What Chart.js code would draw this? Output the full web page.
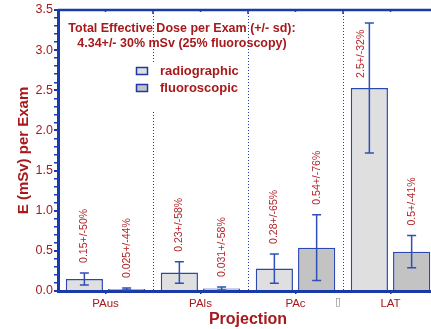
<!DOCTYPE html>
<html>
<head>
<meta charset="utf-8">
<script src="https://cdn.jsdelivr.net/npm/chart.js@4.4.1/dist/chart.umd.min.js"></script>
<style>
  html, body { margin: 0; padding: 0; overflow: hidden; background: #fff; }
  #wrap { width: 445px; height: 329px; }
</style>
</head>
<body>
<div id="wrap"><canvas id="c" width="445" height="329"></canvas></div>
<script>
const categories = ['PAus', 'PAls', 'PAc', 'LAT'];
const radiographic = [0.15, 0.23, 0.28, 2.53];
const radiographicSdPct = [50, 58, 65, 32];
const radiographicLabels = ['0.15+/-50%', '0.23+/-58%', '0.28+/-65%', '2.5+/-32%'];
const fluoroscopic = [0.025, 0.031, 0.54, 0.49];
const fluoroscopicSdPct = [44, 58, 76, 41];
const fluoroscopicLabels = ['0.025+/-44%', '0.031+/-58%', '0.54+/-76%', '0.5+/-41%'];
const titleLines = ['Total Effective Dose per Exam (+/- sd):', '4.34+/- 30% mSv (25% fluoroscopy)'];
const seriesNames = ['radiographic', 'fluoroscopic'];

const FONT = "'Liberation Sans', Arial, Helvetica, sans-serif";
const RED = '#a8191c';
const BLUE = '#1a3aa8';
const ERR = '#2f4fb5';
const FILLS = ['#dfdfdf', '#c3c3c3'];

Chart.defaults.font.family = FONT;

const sds = [radiographicSdPct, fluoroscopicSdPct];
const valueLabels = [radiographicLabels, fluoroscopicLabels];

const decor = {
  id: 'decor',
  beforeDatasetsDraw(chart) {
    const { ctx, chartArea: a, scales: { x } } = chart;
    ctx.save();
    ctx.strokeStyle = BLUE;
    ctx.lineWidth = 1;
    ctx.setLineDash([1, 2]);
    for (let i = 0; i < categories.length - 1; i++) {
      const bx = Math.round((x.getPixelForValue(i) + x.getPixelForValue(i + 1)) / 2) + 0.5;
      ctx.beginPath();
      ctx.moveTo(bx, a.top);
      ctx.lineTo(bx, a.bottom);
      ctx.stroke();
    }
    ctx.restore();
  },
  afterDatasetsDraw(chart) {
    const { ctx, chartArea: a, scales: { x, y } } = chart;
    ctx.save();

    // error bars + value labels
    chart.data.datasets.forEach((ds, d) => {
      const meta = chart.getDatasetMeta(d);
      meta.data.forEach((bar, i) => {
        const v = ds.data[i];
        const sd = v * sds[d][i] / 100;
        const yt = y.getPixelForValue(v + sd);
        const yb = y.getPixelForValue(v - sd);
        ctx.strokeStyle = ERR;
        ctx.lineWidth = 1.5;
        ctx.beginPath();
        ctx.moveTo(bar.x, yt); ctx.lineTo(bar.x, yb);
        ctx.moveTo(bar.x - 4.5, yt); ctx.lineTo(bar.x + 4.5, yt);
        ctx.moveTo(bar.x - 4.5, yb); ctx.lineTo(bar.x + 4.5, yb);
        ctx.stroke();

        const txt = valueLabels[d][i];
        ctx.font = `10.5px ${FONT}`;
        const w = ctx.measureText(txt).width;
        let lx = bar.x, ly = yt - 10;
        if (ly - w < a.top) { lx = bar.x - 8.5; ly = bar.y - 10; }
        ctx.save();
        ctx.translate(lx, ly);
        ctx.rotate(-Math.PI / 2);
        ctx.fillStyle = '#b3262a';
        ctx.textAlign = 'left';
        ctx.textBaseline = 'middle';
        ctx.fillText(txt, 0, 0);
        ctx.restore();
      });
    });

    // top frame line with ticks
    ctx.strokeStyle = BLUE;
    ctx.lineWidth = 2.5;
    ctx.beginPath();
    ctx.moveTo(a.left, a.top); ctx.lineTo(a.right, a.top);
    ctx.stroke();
    ctx.lineWidth = 1.5;
    ctx.beginPath();
    for (let i = 0; i < categories.length; i++) {
      const cx = x.getPixelForValue(i);
      ctx.moveTo(cx, a.top); ctx.lineTo(cx, a.top + 2);
      if (i < categories.length - 1) {
        const bx = (cx + x.getPixelForValue(i + 1)) / 2;
        ctx.moveTo(bx, a.top); ctx.lineTo(bx, a.top + 4);
      }
    }
    ctx.stroke();

    // legend
    ctx.fillStyle = '#fff';
    ctx.fillRect(128, 62, 112, 48);
    ctx.font = `bold 13px ${FONT}`;
    ctx.textAlign = 'left';
    ctx.textBaseline = 'middle';
    seriesNames.forEach((name, k) => {
      const ly = 71 + k * 17;
      ctx.fillStyle = FILLS[k];
      ctx.fillRect(136.5, ly - 3.5, 11, 7);
      ctx.strokeStyle = BLUE;
      ctx.lineWidth = 1.5;
      ctx.strokeRect(136.5, ly - 3.5, 11, 7);
      ctx.fillStyle = RED;
      ctx.fillText(name, 160, ly);
    });

    // annotation title
    ctx.font = `bold 12.5px ${FONT}`;
    ctx.textAlign = 'center';
    titleLines.forEach((t, k) => ctx.fillText(t, 182, 29 + k * 15));

    // stray glyph under the axis
    ctx.fillStyle = '#888';
    ctx.font = `11px 'DejaVu Sans', sans-serif`;
    ctx.fillText('\u25AF', 338, 302);

    ctx.restore();
  },
};

new Chart(document.getElementById('c'), {
  type: 'bar',
  data: {
    labels: categories,
    datasets: [
      {
        label: seriesNames[0],
        data: radiographic,
        backgroundColor: FILLS[0],
        borderColor: '#2a48b0',
        borderWidth: 1.5,
        categoryPercentage: 0.89,
        barPercentage: 0.88,
      },
      {
        label: seriesNames[1],
        data: fluoroscopic,
        backgroundColor: FILLS[1],
        borderColor: '#2a48b0',
        borderWidth: 1.5,
        categoryPercentage: 0.89,
        barPercentage: 0.88,
      },
    ],
  },
  options: {
    responsive: false,
    devicePixelRatio: 1,
    animation: false,
    layout: { padding: { top: 10, right: 7, left: 0, bottom: 0 } },
    plugins: { legend: { display: false }, tooltip: { enabled: false } },
    scales: {
      x: {
        afterFit: (s) => { s.height = 38; },
        grid: { drawOnChartArea: false, offset: false, tickLength: 3, color: BLUE, lineWidth: 1.5 },
        border: { color: BLUE, width: 3 },
        ticks: { color: RED, font: { size: 11.5 }, padding: 3 },
        title: {
          display: true, text: 'Projection', color: RED,
          font: { size: 16, weight: 'bold' }, padding: { top: 0, bottom: 0 },
        },
      },
      y: {
        min: 0,
        max: 3.5,
        afterFit: (s) => { s.width = 58; },
        grid: {
          drawOnChartArea: false, tickLength: 4, color: BLUE,
          lineWidth: (c) => (Math.round(c.tick.value * 10) % 5 === 0 ? 2 : 1.5),
        },
        border: { color: BLUE, width: 3 },
        ticks: {
          stepSize: 0.1, autoSkip: false, maxTicksLimit: 100,
          color: RED, font: { size: 12.5 }, padding: 1,
          callback: (v) => (Math.round(v * 10) % 5 === 0 ? v.toFixed(1) : ''),
        },
        title: {
          display: true, text: 'E (mSv) per Exam', color: RED,
          font: { size: 15, weight: 'bold' }, padding: { top: 15, bottom: 0 },
        },
      },
    },
  },
  plugins: [decor],
});
</script>
</body>
</html>
